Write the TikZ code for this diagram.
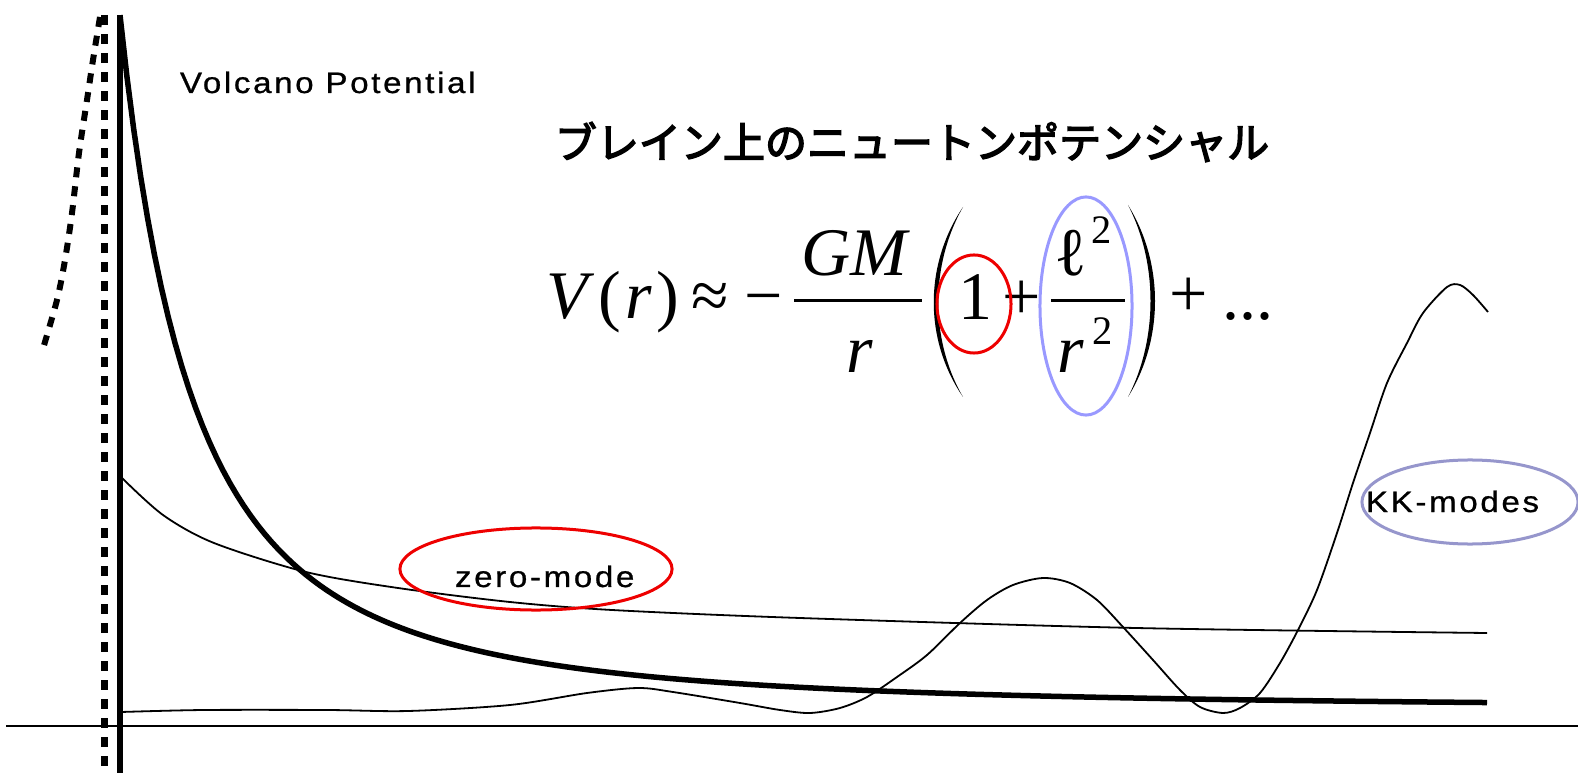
\documentclass[tikz,border=0pt]{standalone}
\usepackage{fontspec}
\usepackage{graphicx}
\setmainfont{Liberation Serif}
\newfontfamily\labelfont[FakeStretch=1.12, LetterSpace=9, FakeBold=0.8]{Liberation Sans}
\newfontfamily\cjk[FakeBold=3.5]{Noto Sans CJK JP}
\definecolor{ringred}{RGB}{238,0,0}
\definecolor{ringblue}{RGB}{153,153,255}
\definecolor{ringgrey}{RGB}{150,150,204}

\tikzset{
    txt/.style={inner sep=0pt, outer sep=0pt},
    eqn/.style={txt, anchor=base, font=\fontsize{19.35}{20}\selectfont},
    eqsup/.style={txt, font=\fontsize{11.5}{12}\selectfont},
    modelabel/.style={txt, anchor=base west, font=\labelfont\fontsize{8.4}{10}\selectfont},
    dotline/.style={line width=0.06cm, dash pattern=on 0.1cm off 0.09cm},
    wave/.style={line width=0.018cm},
    ring/.style={line width=0.03cm},
}

\begin{document}
\begin{tikzpicture}[x=0.01cm, y=-0.01cm]
    \useasboundingbox (0,0) rectangle (1578,773);

    % Axes
    \coordinate (axL) at (6,726);
    \coordinate (axR) at (1578,726);
    \draw[line width=0.45pt] (axL) -- (axR);
    \coordinate (braneT) at (120,15);
    \coordinate (braneB) at (120,773);
    \draw[line width=0.05cm] (braneT) -- (braneB);
    \coordinate (dotT) at (104.5,15);
    \coordinate (dotB) at (104.5,773);
    \draw[dotline] (dotT) -- (dotB);
    \draw[dotline] plot[smooth] coordinates {(100,17) (93,60) (87,100) (79,153) (72,213) (65,260) (57,300) (42,352)};

    % Volcano potential
    \draw[line width=0.055cm] plot[domain=120:1487, samples=200, variable=\t] ({\t}, {709 - 1479/(((\t+26)/100)^2)});

    % Zero-mode
    \draw[wave] plot[smooth] coordinates {(121,477) (163,515) (214,543) (306,572) (398,588) (510,602) (612,610) (800,618) (1136,628) (1487,633)};

    % KK-modes
    \draw[wave] plot[smooth] coordinates {(121,712) (204,710) (327,710) (408,711) (510,705) (587,693) (638,688) (673,692) (740,703) (780,710) (810,713) (840,708) (867,697) (897,677) (927,655) (960,623) (987,600) (1013,585) (1043,578) (1070,583) (1097,600) (1123,627) (1153,660) (1180,690) (1200,707) (1223,713) (1240,708) (1260,693) (1280,663) (1298,630) (1317,590) (1337,533) (1353,483) (1370,433) (1387,383) (1407,343) (1423,313) (1447,287) (1460,285) (1473,295) (1488,312)};

    % Labels
    \node[modelabel] (volcano) at (180,93) {Volcano Potential};
    \node[modelabel] (zero) at (455,587) {zero-mode};
    \node[modelabel] (kk) at (1366,512) {KK-modes};
    \draw[ring, ringred] (536,569) ellipse [x radius=1.36cm, y radius=0.41cm];
    \draw[ring, ringgrey] (1470,502) ellipse [x radius=1.08cm, y radius=0.42cm];

    % Title
    \node[txt, font=\cjk\fontsize{11.95}{12}\selectfont] (title) at (912,142) {ブレイン上のニュートンポテンシャル};

    % Formula
    \node[eqn, anchor=base west] (Vr) at (546,318) {\textit{V}\kern1.2pt(\kern1.2pt\textit{r}\kern1.2pt)};
    \node[eqn] (approx) at (710,318) {≈};
    \node[eqn] (minus) at (764,318) {−};
    \node[eqn] (GM) at (856,275) {\textit{GM}};
    \draw[line width=0.03cm] (794,301) -- (922,301);
    \node[eqn] (rden) at (860,373) {\textit{r}};
    \fill (963,207) .. controls (924,265) and (924,340) .. (963,397) .. controls (930,340) and (930,265) .. (963,207);
    \node[eqn] (one) at (976,320) {1};
    \node[eqn] (plusA) at (1022,320) {+};
    \node[eqn] (ell) at (1071,275) {ℓ};
    \node[eqsup] (ellsq) at (1102,230) {2};
    \draw[line width=0.03cm] (1051,301) -- (1125,301);
    \node[eqn] (rsq) at (1071,373) {\textit{r}};
    \node[eqsup] (rsqsq) at (1103,331) {2};
    \fill (1128,205) .. controls (1164,263) and (1164,339) .. (1128,397) .. controls (1158,339) and (1158,263) .. (1128,205);
    \node[eqn] (plusB) at (1189,317) {+};
    \node[eqn, anchor=base west] (dots) at (1222,320) {...};
    \draw[ring, ringred] (974,304) ellipse [x radius=0.37cm, y radius=0.49cm];
    \draw[ring, ringblue] (1086,306) ellipse [x radius=0.46cm, y radius=1.09cm];
\end{tikzpicture}
\end{document}
